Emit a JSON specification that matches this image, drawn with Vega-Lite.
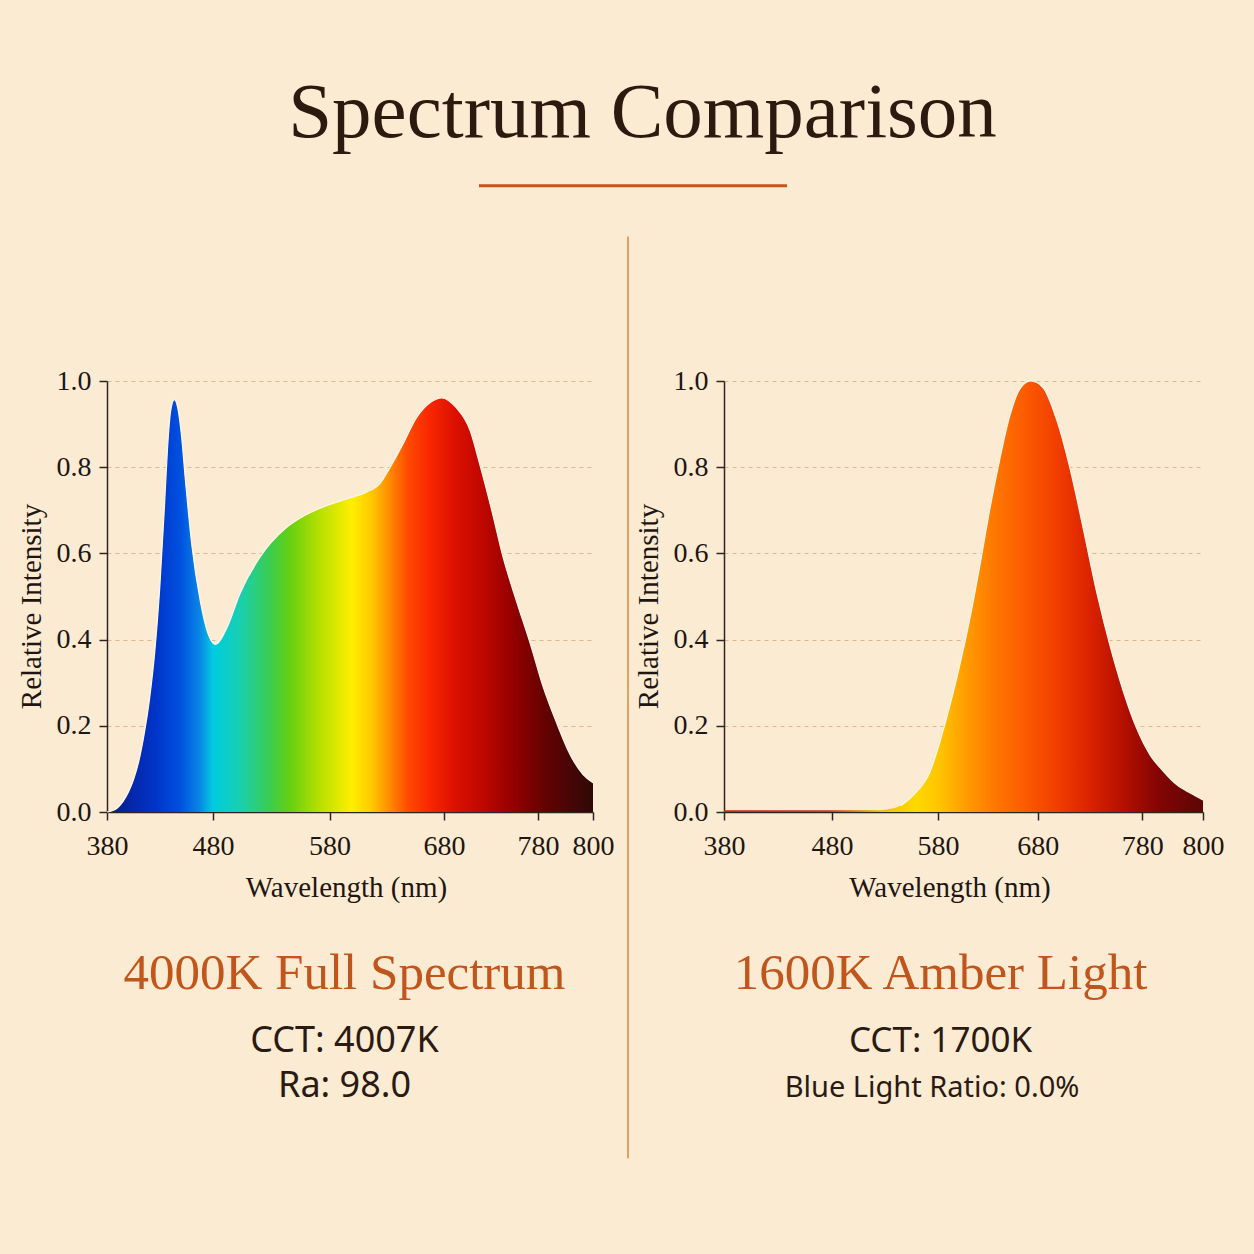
{
  "$schema": "https://vega.github.io/schema/vega-lite/v6.json",
  "background": "#fcebd3",
  "padding": {"left": 17, "top": 74, "right": 34, "bottom": 97},
  "title": {"text": "Spectrum Comparison", "font": "Liberation Serif", "fontSize": 79, "fontWeight": "normal", "color": "#2c1a0e", "anchor": "middle", "frame": "bounds", "offset": 30, "dx": 22},
  "config": {
    "view": {"stroke": null},
    "axis": {"labelFont": "Liberation Serif", "labelFontSize": 28, "labelColor": "#1f1611", "titleFont": "Liberation Serif", "titleFontSize": 29, "titleFontWeight": "normal", "titleColor": "#1f1611", "domainColor": "#2d2520", "domainWidth": 1.5, "tickColor": "#2d2520", "tickWidth": 1.5, "tickSize": 8, "gridColor": "#dfb593", "gridDash": [4, 4], "gridWidth": 1, "labelOverlap": false},
    "axisX": {"grid": false, "labelPadding": 12, "titlePadding": 13, "labelFlush": false},
    "axisY": {"grid": true, "labelPadding": 8, "titlePadding": 10, "titleY": 225}
  },
  "datasets": {
    "full": [
      {"wl": 380, "v": 0.0}, {"wl": 385, "v": 0.003}, {"wl": 390, "v": 0.01}, {"wl": 395, "v": 0.024}, {"wl": 400, "v": 0.045},
      {"wl": 405, "v": 0.075}, {"wl": 410, "v": 0.118}, {"wl": 415, "v": 0.18}, {"wl": 420, "v": 0.26}, {"wl": 425, "v": 0.37},
      {"wl": 430, "v": 0.53}, {"wl": 434, "v": 0.7}, {"wl": 437, "v": 0.84}, {"wl": 440, "v": 0.93}, {"wl": 443.5, "v": 0.957},
      {"wl": 447, "v": 0.935}, {"wl": 450, "v": 0.88}, {"wl": 454, "v": 0.77}, {"wl": 460, "v": 0.62}, {"wl": 468, "v": 0.49},
      {"wl": 475.5, "v": 0.413}, {"wl": 482, "v": 0.389}, {"wl": 492, "v": 0.428}, {"wl": 503, "v": 0.506}, {"wl": 520, "v": 0.59},
      {"wl": 543, "v": 0.66}, {"wl": 556, "v": 0.684}, {"wl": 572, "v": 0.705}, {"wl": 598, "v": 0.729}, {"wl": 612, "v": 0.742},
      {"wl": 624, "v": 0.762}, {"wl": 633, "v": 0.8}, {"wl": 644, "v": 0.853}, {"wl": 656, "v": 0.915}, {"wl": 668, "v": 0.95},
      {"wl": 678, "v": 0.961}, {"wl": 693, "v": 0.938}, {"wl": 708, "v": 0.884}, {"wl": 718, "v": 0.807}, {"wl": 731, "v": 0.698},
      {"wl": 743, "v": 0.59}, {"wl": 757, "v": 0.49}, {"wl": 772, "v": 0.389}, {"wl": 782, "v": 0.288}, {"wl": 787, "v": 0.203},
      {"wl": 791.6, "v": 0.134}, {"wl": 796.4, "v": 0.087}, {"wl": 800, "v": 0.068}
    ],
    "amber": [
      {"wl": 380, "v": 0.004}, {"wl": 450, "v": 0.004}, {"wl": 520, "v": 0.004}, {"wl": 532, "v": 0.006}, {"wl": 545, "v": 0.015},
      {"wl": 557, "v": 0.04}, {"wl": 572.6, "v": 0.094}, {"wl": 584, "v": 0.18}, {"wl": 598.7, "v": 0.31}, {"wl": 612, "v": 0.449},
      {"wl": 622, "v": 0.572}, {"wl": 632, "v": 0.703}, {"wl": 642, "v": 0.819}, {"wl": 652, "v": 0.919}, {"wl": 662, "v": 0.981},
      {"wl": 673, "v": 1.0}, {"wl": 685, "v": 0.985}, {"wl": 698, "v": 0.911}, {"wl": 711, "v": 0.796}, {"wl": 723.6, "v": 0.657},
      {"wl": 736.4, "v": 0.51}, {"wl": 749, "v": 0.387}, {"wl": 762, "v": 0.279}, {"wl": 774.6, "v": 0.194}, {"wl": 782.5, "v": 0.133},
      {"wl": 787, "v": 0.094}, {"wl": 791.4, "v": 0.063}, {"wl": 795.8, "v": 0.044}, {"wl": 800, "v": 0.028}
    ]
  },
  "bounds": "flush",
  "spacing": 35,
  "hconcat": [
    {
      "width": 486,
      "height": 431,
      "title": {"text": "4000K Full Spectrum", "subtitle": ["CCT: 4007K", "Ra: 98.0"], "orient": "bottom", "anchor": "middle", "frame": "group", "font": "Liberation Serif", "fontSize": 51, "fontWeight": "normal", "color": "#c0561c", "subtitleFont": "Noto Sans", "subtitleFontSize": 36, "subtitleColor": "#2a1a12", "subtitleLineHeight": 45, "subtitlePadding": 24, "offset": 47, "dx": -5.5},
      "data": {"name": "full"},
      "mark": {"type": "area", "interpolate": "monotone", "opacity": 1, "fillOpacity": 1,
        "color": {"gradient": "linear", "x1": 0, "y1": 0, "x2": 1, "y2": 0, "stops": [
          {"offset": 0, "color": "#0a1a80"}, {"offset": 0.047, "color": "#0626a8"}, {"offset": 0.099, "color": "#0034c8"},
          {"offset": 0.15, "color": "#0050e0"}, {"offset": 0.191, "color": "#0a86e6"}, {"offset": 0.218, "color": "#00cce0"},
          {"offset": 0.274, "color": "#18d0b0"}, {"offset": 0.335, "color": "#3acc50"}, {"offset": 0.377, "color": "#66d010"},
          {"offset": 0.438, "color": "#b8e000"}, {"offset": 0.504, "color": "#ffee00"}, {"offset": 0.545, "color": "#ffc800"},
          {"offset": 0.582, "color": "#ff8a00"}, {"offset": 0.619, "color": "#ff4a00"}, {"offset": 0.665, "color": "#f82600"},
          {"offset": 0.716, "color": "#dc1000"}, {"offset": 0.778, "color": "#bc0600"}, {"offset": 0.84, "color": "#900000"},
          {"offset": 0.901, "color": "#640202"}, {"offset": 0.963, "color": "#420606"}, {"offset": 1, "color": "#300808"}]},
        "line": {"color": "#fff7ec", "strokeWidth": 1.2}},
      "encoding": {
        "x": {"field": "wl", "type": "quantitative", "title": "Wavelength (nm)",
          "scale": {"domain": [380, 480, 580, 680, 780, 800], "range": [0, 106, 222.5, 337, 431, 486], "nice": false, "zero": false},
          "axis": {"values": [380, 480, 580, 680, 780, 800], "format": "d", "titleX": 239}},
        "y": {"field": "v", "type": "quantitative", "title": "Relative Intensity",
          "scale": {"domain": [0, 1], "nice": false, "zero": false},
          "axis": {"values": [0, 0.2, 0.4, 0.6, 0.8, 1.0], "format": ".1f"}}
      }
    },
    {
      "width": 61,
      "height": 431,
      "data": {"values": [{}]},
      "layer": [
        {
          "mark": {"type": "rule", "color": "#e29a52", "strokeWidth": 1.8},
          "encoding": {
            "x": {"datum": 0, "type": "quantitative", "scale": {"domain": [0, 1], "nice": false, "zero": false}, "axis": null},
            "y": {"datum": 1.335, "type": "quantitative", "scale": {"domain": [0, 1], "nice": false, "zero": false}, "axis": null},
            "y2": {"datum": -0.8035}
          }
        },
        {
          "mark": {"type": "rule", "color": "#c8521a", "strokeWidth": 3},
          "encoding": {
            "x": {"datum": -2.443, "type": "quantitative", "axis": null},
            "x2": {"datum": 2.607},
            "y": {"datum": 1.4531, "type": "quantitative", "axis": null}
          }
        }
      ]
    },
    {
      "title": {"text": "Blue Light Ratio: 0.0%", "orient": "bottom", "anchor": "middle", "frame": "bounds", "font": "Noto Sans", "fontSize": 29, "fontWeight": "normal", "color": "#2a1a12", "offset": 15, "dx": 3},
      "vconcat": [
        {
          "width": 479,
          "height": 431,
          "title": {"text": "1600K Amber Light", "subtitle": "CCT: 1700K", "orient": "bottom", "anchor": "middle", "frame": "group", "font": "Liberation Serif", "fontSize": 51, "fontWeight": "normal", "color": "#c0561c", "subtitleFont": "Noto Sans", "subtitleFontSize": 35, "subtitleColor": "#2a1a12", "subtitlePadding": 24, "offset": 47, "dx": -23},
          "data": {"name": "amber"},
          "layer": [
            {
              "mark": {"type": "area", "interpolate": "monotone", "opacity": 1, "fillOpacity": 1,
                "color": {"gradient": "linear", "x1": 0, "y1": 0, "x2": 1, "y2": 0, "stops": [
                  {"offset": 0, "color": "#c42816"}, {"offset": 0.22, "color": "#c83a14"}, {"offset": 0.33, "color": "#f0c000"},
                  {"offset": 0.4, "color": "#ffd900"}, {"offset": 0.45, "color": "#ffc400"}, {"offset": 0.5, "color": "#ffa000"},
                  {"offset": 0.56, "color": "#ff7a00"}, {"offset": 0.63, "color": "#fb5a00"}, {"offset": 0.7, "color": "#f03c00"},
                  {"offset": 0.77, "color": "#d82000"}, {"offset": 0.84, "color": "#b00e00"}, {"offset": 0.91, "color": "#820404"},
                  {"offset": 1, "color": "#5c0606"}]}},
              "encoding": {
                "x": {"field": "wl", "type": "quantitative", "title": "Wavelength (nm)",
                  "scale": {"domain": [380, 480, 580, 680, 780, 800], "range": [0, 108, 214, 313.7, 418.3, 479], "nice": false, "zero": false},
                  "axis": {"values": [380, 480, 580, 680, 780, 800], "format": "d", "titleX": 225.5}},
                "y": {"field": "v", "type": "quantitative", "title": "Relative Intensity",
                  "scale": {"domain": [0, 1], "nice": false, "zero": false},
                  "axis": {"values": [0, 0.2, 0.4, 0.6, 0.8, 1.0], "format": ".1f"}}
              }
            },
            {
              "transform": [{"filter": "datum.v > 0.012"}],
              "mark": {"type": "line", "interpolate": "monotone", "color": "#fff7ec", "strokeWidth": 1.2},
              "encoding": {
                "x": {"field": "wl", "type": "quantitative"},
                "y": {"field": "v", "type": "quantitative"}
              }
            }
          ]
        }
      ]
    }
  ]
}
